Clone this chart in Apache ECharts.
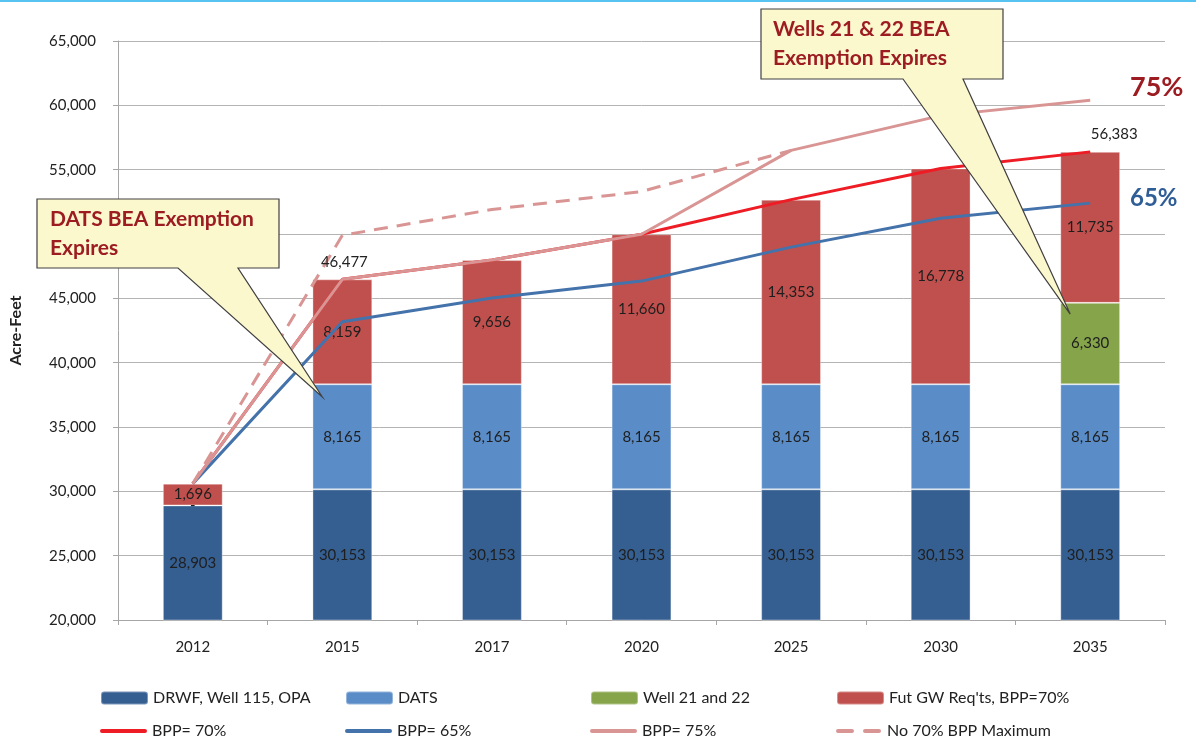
<!DOCTYPE html>
<html>
<head>
<meta charset="utf-8">
<script src="https://cdn.jsdelivr.net/npm/echarts@6/dist/echarts.min.js"></script>
<style>
  html, body { margin: 0; padding: 0; background: #fff; }
  #chart { width: 1196px; height: 740px; }
</style>
</head>
<body>
<div id="chart"></div>
<script>
// categories and values
var years = ['2012', '2015', '2017', '2020', '2025', '2030', '2035'];

var drwf = [28903, 30153, 30153, 30153, 30153, 30153, 30153];
var dats = [0, 8165, 8165, 8165, 8165, 8165, 8165];
var wells = [null, null, null, null, null, null, 6330];
var futGW = [1696, 8159, 9656, 11660, 14353, 16778, 11735];

var bpp70 = [30599, 46477, 47974, 49978, 52671, 55096, 56383];
var bpp65 = [30600, 43180, 45020, 46340, 48980, 51230, 52400];
var bpp75 = [30599, 46477, 47974, 49978, 56500, 59200, 60400];
var noMax = [30599, 49900, 51900, 53300, 56500, null, null];

var yTicks = { min: 20000, max: 65000, step: 5000 };

var FONT = 'Lato, "Open Sans", sans-serif';

function fmt(v) {
  return Number(v).toLocaleString('en-US');
}

var barLabel = {
  show: true,
  position: 'inside',
  color: '#1e1e1e',
  fontSize: 15,
  fontFamily: FONT,
  formatter: function (p) {
    if (p.value === 0) return '-';
    if (p.value == null) return '';
    return fmt(p.value);
  }
};

function barSeries(name, data, color) {
  return {
    name: name,
    type: 'bar',
    stack: 'total',
    barWidth: '40%',
    data: data,
    itemStyle: { color: color, borderColor: 'rgba(255,255,255,0.35)', borderWidth: 1 },
    label: barLabel
  };
}

// total label sitting on a line point
function totalMark(idx, values, offset) {
  return {
    symbol: 'circle',
    symbolSize: 0,
    data: [{ coord: [years[idx], values[idx]], value: values[idx] }],
    label: {
      show: true, position: 'top', distance: 10, offset: offset,
      color: '#222', fontSize: 15, fontFamily: FONT,
      formatter: function (p) { return fmt(p.value); }
    }
  };
}

var chart = echarts.init(document.getElementById('chart'));

var legendNames = [
  'DRWF, Well 115, OPA', 'DATS', 'Well 21 and 22', "Fut GW Req'ts, BPP=70%",
  'BPP= 70%', 'BPP= 65%', 'BPP= 75%', 'No 70% BPP Maximum'
];
var lineIcon = 'path://M2,0h43a2,2 0 0 1 0,4h-43a2,2 0 0 1 0,-4z';
var dashIcon = 'path://M2,0h14a2,2 0 0 1 0,4h-14a2,2 0 0 1 0,-4z M29,0h14a2,2 0 0 1 0,4h-14a2,2 0 0 1 0,-4z';
var legendX = [100, 345, 590, 836];
var legends = legendNames.map(function (n, i) {
  var row = Math.floor(i / 4);
  var item = { name: n };
  if (row === 1) item.icon = (i === 7) ? dashIcon : lineIcon;
  return {
    data: [item],
    left: legendX[i % 4],
    top: row === 0 ? 690 : 723,
    padding: 0,
    itemWidth: 47,
    itemHeight: row === 0 ? 13 : 4,
    itemGap: 6,
    selectedMode: false,
    textStyle: { fontSize: 16, color: '#222', fontFamily: FONT }
  };
});

var option = {
  animation: false,
  backgroundColor: '#fff',
  textStyle: { fontFamily: FONT },
  grid: { left: 118, right: 31, top: 41, bottom: 120 },
  legend: legends,
  xAxis: {
    type: 'category',
    data: years,
    axisLine: { lineStyle: { color: '#a6a6a6', width: 1 } },
    axisTick: { show: true, length: 5, lineStyle: { color: '#a6a6a6' } },
    axisLabel: { color: '#222', fontSize: 15, margin: 20, fontFamily: FONT }
  },
  yAxis: {
    type: 'value',
    min: yTicks.min,
    max: yTicks.max,
    interval: yTicks.step,
    name: 'Acre-Feet',
    nameLocation: 'middle',
    nameGap: 94,
    nameTextStyle: { fontWeight: 'bold', fontSize: 16, color: '#222', fontFamily: FONT },
    axisLine: { show: true, lineStyle: { color: '#a6a6a6' } },
    axisTick: { show: true, length: 5, lineStyle: { color: '#a6a6a6' } },
    axisLabel: { color: '#222', fontSize: 15, margin: 22, fontFamily: FONT, formatter: fmt },
    splitLine: { lineStyle: { color: '#b4b4b4', width: 1 } }
  },
  series: [
    barSeries('DRWF, Well 115, OPA', drwf, '#365F91'),
    barSeries('DATS', dats, '#5A8DC8'),
    barSeries('Well 21 and 22', wells, '#86A44A'),
    barSeries("Fut GW Req'ts, BPP=70%", futGW, '#C0504D'),
    {
      name: 'BPP= 70%', type: 'line', data: bpp70, symbol: 'none', z: 3,
      lineStyle: { color: '#EE1C25', width: 3 }, itemStyle: { color: '#EE1C25' },
      markPoint: totalMark(years.length - 1, bpp70, [24, 0])
    },
    {
      name: 'BPP= 65%', type: 'line', data: bpp65, symbol: 'none', z: 3,
      lineStyle: { color: '#4472AA', width: 3 }, itemStyle: { color: '#4472AA' }
    },
    {
      name: 'BPP= 75%', type: 'line', data: bpp75, symbol: 'none', z: 4,
      lineStyle: { color: '#D99594', width: 3 }, itemStyle: { color: '#D99594' },
      markPoint: totalMark(1, bpp75, [2, 0])
    },
    {
      name: 'No 70% BPP Maximum', type: 'line', data: noMax, symbol: 'none', z: 4,
      lineStyle: { color: '#D99594', width: 3, type: [14, 9] }, itemStyle: { color: '#D99594' }
    }
  ]
};

chart.setOption(option);

// callouts, pointing at the bars
function callout(box, baseL, baseR, tip) {
  var x0 = box[0], y0 = box[1], x1 = box[0] + box[2], y1 = box[1] + box[3];
  return {
    type: 'polygon',
    z: 100,
    shape: {
      points: [[x0, y0], [x1, y0], [x1, y1], [baseR, y1], tip, [baseL, y1], [x0, y1]]
    },
    style: { fill: '#FCF8CE', stroke: '#404040', lineWidth: 1.2 }
  };
}
var tip1 = chart.convertToPixel({ gridIndex: 0 }, ['2015', 37330]);
var tip2 = chart.convertToPixel({ gridIndex: 0 }, ['2035', 43780]);
tip1[0] -= 20;
tip2[0] -= 20;

var calloutText = { fill: '#9C1C22', fontSize: 21, fontWeight: 'bold', fontFamily: FONT, lineHeight: 29 };

chart.setOption({
  graphic: [
    { type: 'rect', shape: { x: 0, y: 0, width: 1196, height: 2 }, style: { fill: '#56C3F0' } },
    callout([37, 199, 242, 69], 178, 238, tip1),
    {
      type: 'text', z: 101, left: 50, top: 205,
      style: Object.assign({ text: 'DATS BEA Exemption\nExpires' }, calloutText)
    },
    callout([761, 9, 242, 70], 903, 963, tip2),
    {
      type: 'text', z: 101, left: 773, top: 15,
      style: Object.assign({ text: 'Wells 21 & 22 BEA\nExemption Expires' }, calloutText)
    },
    {
      type: 'text', z: 101, left: 1130, top: 74,
      style: { text: '75%', fill: '#9C1C22', fontSize: 27, fontWeight: 'bold', fontFamily: FONT }
    },
    {
      type: 'text', z: 101, left: 1130, top: 186,
      style: { text: '65%', fill: '#2F5D96', fontSize: 24, fontWeight: 'bold', fontFamily: FONT }
    }
  ]
});
</script>
</body>
</html>
